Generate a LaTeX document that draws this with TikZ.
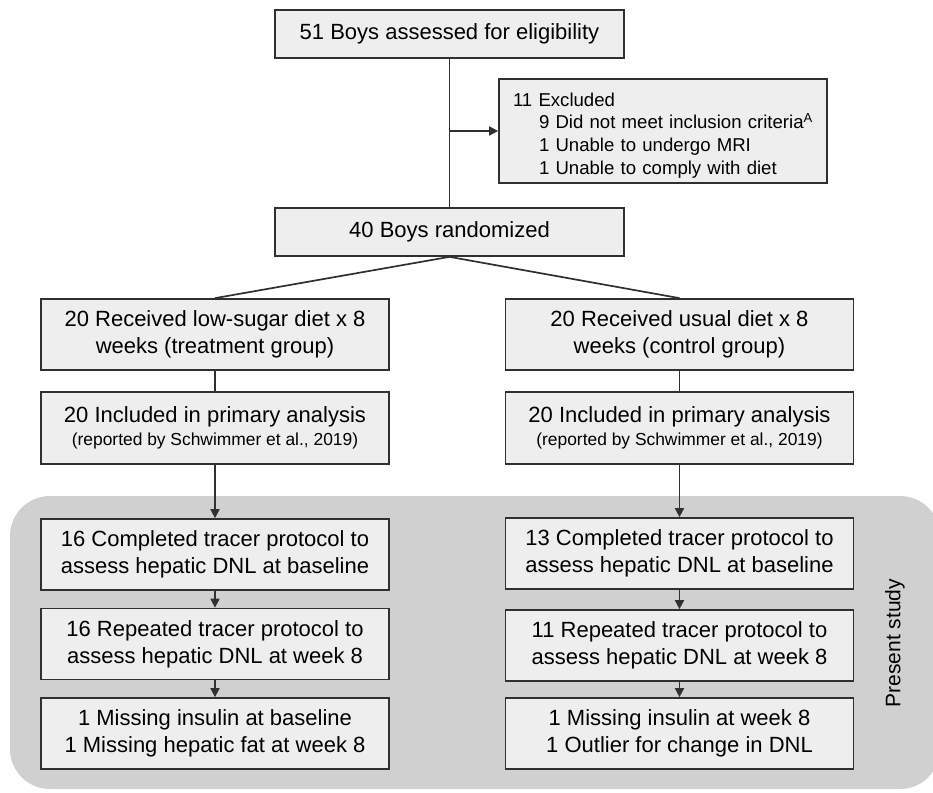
\documentclass[tikz,border=0pt]{standalone}
\usepackage{fontspec}
\setmainfont{Liberation Sans}
\usetikzlibrary{arrows.meta}
\definecolor{boxfill}{HTML}{EEEEEE}
\definecolor{regionfill}{HTML}{D0D0D0}
\definecolor{edgecol}{HTML}{303030}
\begin{document}
\begin{tikzpicture}[x=1pt,y=-1pt,
  box/.style={draw=edgecol,fill=boxfill,line width=1.7pt,inner sep=0pt,align=center,
    font=\fontsize{22}{27}\selectfont},
  wide/.style={box,minimum width=349pt,minimum height=48pt},
  col/.style={box,minimum width=348pt,minimum height=71pt},
  conn/.style={draw=edgecol,line width=1.7pt},
  arr/.style={conn,-{Triangle[length=9pt,width=9pt]}}]
\useasboundingbox (0,0) rectangle (933,792);
\fill[regionfill,rounded corners=40pt] (10,496) rectangle (940,789);
\node[wide] (top) at (449.5,34) {51 Boys assessed for eligibility};
\node[box,minimum width=328pt,minimum height=104pt,text width=300pt,inner xsep=14pt,align=left,
  font=\fontsize{18.6}{22.7}\selectfont] (excl) at (663,131)
  {\rule{0pt}{22pt}11 Excluded\\
   \hspace*{26pt}9 Did not meet inclusion criteria\textsuperscript{A}\\
   \hspace*{26pt}1 Unable to undergo MRI\\
   \hspace*{26pt}1 Unable to comply with diet};
\node[wide] (rand) at (449.5,232) {40 Boys randomized};
\node[col] (l1) at (215,334.5) {20 Received low-sugar diet x 8\\weeks (treatment group)};
\node[col,minimum height=72pt] (l2) at (215,428) {20 Included in primary analysis\\[-4pt]{\fontsize{17.4}{21}\selectfont(reported by Schwimmer et al., 2019)}};
\node[col] (l3) at (215,554.5) {16 Completed tracer protocol to\\assess hepatic DNL at baseline};
\node[col] (l4) at (215,644) {16 Repeated tracer protocol to\\assess hepatic DNL at week 8};
\node[col] (l5) at (215,733.5) {1 Missing insulin at baseline\\1 Missing hepatic fat at week 8};
\node[col] (r1) at (679.5,334.5) {20 Received usual diet x 8\\weeks (control group)};
\node[col,minimum height=72pt] (r2) at (679.5,428) {20 Included in primary analysis\\[-4pt]{\fontsize{17.4}{21}\selectfont(reported by Schwimmer et al., 2019)}};
\node[col] (r3) at (679.5,553.5) {13 Completed tracer protocol to\\assess hepatic DNL at baseline};
\node[col] (r4) at (679.5,645.5) {11 Repeated tracer protocol to\\assess hepatic DNL at week 8};
\node[col] (r5) at (679.5,733.5) {1 Missing insulin at week 8\\1 Outlier for change in DNL};
\node[rotate=90,font=\fontsize{21}{25}\selectfont] (ps) at (895,643) {Present study};
\coordinate (split) at (top.south |- excl.west);
\draw[conn] (top.south) -- (rand.north);
\draw[arr] (split) -- (excl.west);
\draw[conn] (rand.south) -- (l1.north);
\draw[conn] (rand.south) -- (r1.north);
\draw[conn] (l1.south) -- (l2.north);
\draw[conn] (r1.south) -- (r2.north);
\draw[arr] (l2.south) -- (l3.north);
\draw[arr] (r2.south) -- (r3.north);
\draw[arr] (l3.south) -- (l4.north);
\draw[arr] (r3.south) -- (r4.north);
\draw[arr] (l4.south) -- (l5.north);
\draw[arr] (r4.south) -- (r5.north);
\end{tikzpicture}
\end{document}
